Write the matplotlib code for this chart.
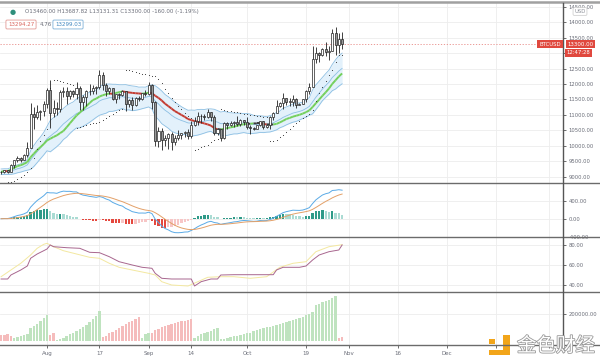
import numpy as np
import pandas as pd
import matplotlib
matplotlib.use('Agg')
import matplotlib.pyplot as plt
import matplotlib.dates as mdates
import matplotlib.patheffects as pe
from matplotlib.collections import LineCollection
from matplotlib.lines import Line2D
from matplotlib.patches import Rectangle

# daily BTCUSD candles
dates = pd.date_range('2020-07-18', '2020-10-30', freq='D')
first_open = 9150
closes = [9160, 9210, 9160, 9390, 9530, 9610, 9550, 9710, 9940, 11040, 10930, 11100, 11120, 11350,
          11800, 11070, 11230, 11190, 11740, 11770, 11600, 11760, 11680, 11880, 11410, 11580, 11780, 11770,
          11870, 11900, 12300, 11960, 11760, 11870, 11530, 11680, 11660, 11760, 11340, 11470, 11330, 11540,
          11510, 11710, 11680,
          11970, 11420, 10170, 10480, 10180, 10260, 10380, 10130, 10240, 10360, 10400, 10450, 10330, 10680,
          10790, 10960, 10950, 10940, 11080, 10920, 10420, 10530, 10240, 10740, 10690, 10730, 10780, 10700,
          10840, 10780,
          10620, 10570, 10550, 10670, 10790, 10600, 10670, 10920, 11060, 11300, 11380, 11550, 11430, 11430,
          11510, 11330, 11370, 11510, 11760, 11920, 12820, 12990, 12940, 13130, 13040, 13070, 13650, 13280,
          13460, 13300]
highs = [9190, 9230, 9220, 9420, 9540, 9660, 9640, 9730, 10110, 11400, 11250, 11330, 11170, 11450,
         11880, 12120, 11480, 11420, 11800, 11910, 11920, 11800, 11810, 12070, 11940, 11630, 11800, 12000,
         11980, 11930, 12470, 12400, 12030, 11890, 11880, 11690, 11720, 11820, 11780, 11530, 11590, 11570,
         11600, 11720, 11800,
         12080, 12000, 11450, 10600, 10580, 10340, 10410, 10440, 10350, 10500, 10410, 10480, 10550, 10790,
         10940, 11100, 11040, 11030, 11180, 11080, 10990, 10570, 10540, 10770, 10770, 10790, 10800, 10950,
         10860, 10850,
         10930, 10670, 10600, 10690, 10800, 10800, 10690, 10950, 11110, 11490, 11420, 11720, 11560, 11550,
         11630, 11540, 11400, 11530, 11820, 12020, 13220, 13200, 13030, 13160, 13350, 13240, 13790, 13860,
         13640, 13688]
lows = [9100, 9120, 9130, 9150, 9280, 9490, 9460, 9530, 9650, 9920, 10560, 10870, 10830, 10980,
        11220, 10580, 10940, 11000, 11090, 11580, 11370, 11530, 11570, 11530, 11150, 11160, 11300, 11630,
        11690, 11690, 11840, 11800, 11610, 11680, 11490, 11380, 11530, 11600, 11120, 11270, 11150, 11290,
        11450, 11490, 11610,
        11660, 11200, 10000, 9950, 9880, 10010, 9890, 9880, 10040, 10200, 10220, 10290, 10230, 10260,
        10630, 10670, 10750, 10820, 10890, 10790, 10360, 10350, 10140, 10210, 10560, 10650, 10600, 10640,
        10650, 10660,
        10530, 10380, 10520, 10530, 10630, 10550, 10590, 10550, 10830, 11050, 11260, 11200, 11320, 11280,
        11280, 11230, 11310, 11350, 11420, 11690, 11900, 12690, 12730, 12900, 12900, 12790, 13060, 12950,
        12990, 13131]

# lower pane: bars and their colour (g / r)
volumes = [42000, 45000, 48000, 40000,
           22000, 29000, 37000, 44000, 52000,
           92000, 110000, 128000, 145000, 168000, 190000,
           45000, 60000,
           8000, 15000, 25000, 38000, 50000, 60000, 74000, 88000, 103000, 118000, 138000, 160000, 185000, 222000,
           30000, 40000, 55000, 68000, 80000, 95000, 108000, 122000, 136000, 150000, 163000, 176000,
           25000, 48000, 60000,
           55000, 78000, 90000, 100000, 108000, 116000, 123000, 130000, 137000, 144000, 150000, 156000, 163000,
           25000, 38000, 48000, 58000, 68000, 76000, 85000, 94000,
           12000, 18000, 24000, 29000, 34000, 39000, 44000, 49000, 55000, 62000, 70000, 78000, 86000, 93000,
           99000, 105000, 112000, 119000, 126000, 133000, 140000, 148000, 156000, 163000, 170000, 178000,
           188000, 198000, 212000, 262000, 272000, 283000, 293000, 303000, 313000, 326000,
           20000, 32000]
vol_dir = ('rrrr' + 'ggggg' + 'gggggg' + 'rr' + 'gggggggggggggg' + 'rrrrrrrrrrrr' + 'ggg'
           + 'rrrrrrrrrrrrr' + 'gggggggg' + 'g' * 36 + 'rr')

# third pane oscillator (bar index from Jul 18, value)
purple_idx = [0, 2, 3, 6, 8, 9, 11, 13, 14, 15, 16, 20, 24, 27, 30, 33, 36, 40, 43, 46, 47, 49, 52, 58,
              59, 61, 64, 66, 67, 71, 76, 83, 84, 86, 91, 93, 95, 97, 100, 103, 104]
purple_val = [45.7, 45.7, 49.7, 54.7, 58.7, 66.4, 70.7, 74, 75.7, 79.7, 78, 77, 76.4, 72.4, 72, 68, 63,
              59.7, 57.4, 56.4, 51.4, 46.4, 45.7, 45.7, 38.7, 43, 45.7, 45.7, 49.7, 50, 50, 50, 54.7, 57.4,
              57.4, 58.7, 64.7, 69.7, 73, 74.7, 79.7]
yellow_idx = [0, 3, 6, 9, 11, 13, 14, 16, 19, 23, 27, 30, 33, 36, 40, 45, 47, 49, 52, 57, 60, 63, 67, 71,
              76, 81, 85, 89, 93, 96, 100, 104]
yellow_val = [48, 54.7, 61.4, 69.7, 76.4, 80.4, 81.4, 78, 74, 70.7, 67.4, 66.4, 61.4, 57.4, 54.7, 51.4,
              49.7, 43, 39.7, 38.7, 43, 47.4, 48, 48, 46.4, 48, 57.4, 61.4, 63, 73, 78, 80]

tick_dates = ['2020-08-01', '2020-08-17', '2020-09-01', '2020-09-14', '2020-10-01', '2020-10-19',
              '2020-11-01', '2020-11-16', '2020-12-01', '2020-12-16', '2021-01-01']
tick_labels = ['Aug', '17', 'Sep', '14', 'Oct', '19', 'Nov', '16', 'Dec', '', '']

W, H = 600, 363
TXT = '#6a6d78'
GRID = '#ededed'
LBL = 3.8


def fx(x):
    return x / W


def fy(y):
    return 1 - y / H


def pane(top, bottom):
    return fig.add_axes([0, fy(bottom), fx(563), (bottom - top) / H])


o = pd.Series([first_open] + closes[:-1], dtype=float)
c = pd.Series(closes, dtype=float)
h = pd.Series(highs, dtype=float)
l = pd.Series(lows, dtype=float)
x = mdates.date2num(dates)

# indicators derived from the candles
ema20 = c.ewm(span=20, adjust=False).mean()
tr = pd.concat([h - l, (h - c.shift()).abs(), (l - c.shift()).abs()], axis=1).max(axis=1)
atr = tr.ewm(alpha=1 / 10, adjust=False).mean()
kc_up, kc_dn = ema20 + atr, ema20 - atr
ma = c.rolling(20, min_periods=1).mean()
macd = c.ewm(span=12, adjust=False).mean() - c.ewm(span=26, adjust=False).mean()
signal = macd.ewm(span=9, adjust=False).mean()
hist = macd - signal


def psar(hi, lo, af0=0.02, step=0.02, amax=0.2):
    n = len(hi)
    out = np.zeros(n)
    up, ep, af = True, hi[0], af0
    out[0] = lo[0] - 300
    for i in range(1, n):
        s = out[i - 1] + af * (ep - out[i - 1])
        if up:
            s = min(s, lo[i - 1], lo[max(i - 2, 0)])
            if lo[i] < s:
                up, s, ep, af = False, ep, lo[i], af0
            elif hi[i] > ep:
                ep, af = hi[i], min(af + step, amax)
        else:
            s = max(s, hi[i - 1], hi[max(i - 2, 0)])
            if hi[i] > s:
                up, s, ep, af = True, ep, hi[i], af0
            elif lo[i] < ep:
                ep, af = lo[i], min(af + step, amax)
        out[i] = s
    return out


sar = psar(highs, lows)

fig = plt.figure(figsize=(6, 3.63), dpi=100)
fig.patch.set_facecolor('white')

ax1 = pane(3.3, 183.3)
ax2 = pane(183.3, 237)
ax3 = pane(237, 291.7)
ax4 = pane(291.7, 345)

x0 = mdates.date2num(pd.Timestamp('2020-07-18')) - 0.333
x1 = x0 + 563 / 3.279
tick_x = mdates.date2num(pd.to_datetime(tick_dates))

for ax in (ax1, ax2, ax3, ax4):
    ax.set_xlim(x0, x1)
    for s in ax.spines.values():
        s.set_visible(False)
    ax.yaxis.tick_right()
    ax.tick_params(axis='y', direction='out', length=2.5, width=0.6, color='#555', pad=1.5,
                   labelsize=LBL, labelcolor=TXT)
    ax.set_xticks(tick_x)
    ax.tick_params(axis='x', length=0)
    ax.set_xticklabels([])
    ax.grid(True, color=GRID, lw=0.6)
    ax.set_axisbelow(True)

# main price pane
ax1.set_ylim(8786, 14615)
price_ticks = np.arange(9000, 14501, 500)
ax1.set_yticks(price_ticks)
# 13000 sits under the countdown tag, as in the screenshot
ax1.set_yticklabels(['' if v == 13000 else '%.2f' % v for v in price_ticks])
ax1.fill_between(x, kc_dn, kc_up, color='#e3f1fb', lw=0)
for band in (kc_up, ema20, kc_dn):
    ax1.plot(x, band, color='#8cbfe3', lw=0.6)
slope = ma.diff().fillna(0).values
seg_col = ['#74d05c' if s > 8 else ('#c43c32' if s < -8 else '#3a3a3a') for s in slope[1:]]
pts = np.column_stack([x, ma.values])
segs = np.stack([pts[:-1], pts[1:]], axis=1)
ax1.add_collection(LineCollection(segs, colors=seg_col, linewidths=1.4))
ax1.scatter(x, sar, s=0.6, color='#333', lw=0, zorder=4)

body_lo = np.minimum(o, c)
body_h = np.maximum((c - o).abs(), 12)
fills = ['white' if cc >= oo else '#9a9a9a' for oo, cc in zip(o, c)]
ax1.vlines(x, l, h, color='#222', lw=0.6, zorder=5)
ax1.bar(x, body_h, bottom=body_lo, width=0.62, color=fills, edgecolor='#222', lw=0.5, zorder=6)
ax1.axhline(closes[-1], color='#e88a86', lw=0.6, ls=(0, (1.5, 2)), zorder=3)

# MACD pane
ax2.set_ylim(-406.7, 786.7)
ax2.set_yticks([-400, 0, 400])
ax2.yaxis.set_major_formatter(plt.FormatStrFormatter('%.2f'))
hv = hist.values
hcol = []
for i, v in enumerate(hv):
    prev = hv[i - 1] if i else 0
    if v >= 0:
        hcol.append('#2e9a88' if v > prev else '#aadbd3')
    else:
        hcol.append('#e5483e' if v < prev else '#f7c6c6')
ax2.bar(x, hv, width=0.7, color=hcol, lw=0)
ax2.plot(x, macd, color='#5aaae6', lw=0.7)
ax2.plot(x, signal, color='#e3a068', lw=0.7)

# oscillator pane
ax3.set_ylim(33, 87.7)
ax3.set_yticks([40, 60, 80])
ax3.yaxis.set_major_formatter(plt.FormatStrFormatter('%.2f'))
ax3.plot(x[yellow_idx], yellow_val, color='#f3e8a0', lw=0.7)
ax3.plot(x[purple_idx], purple_val, color='#a8668e', lw=0.7)

# volume-style pane
ax4.set_ylim(-29300, 361000)
ax4.set_yticks([200000])
ax4.yaxis.set_major_formatter(plt.FormatStrFormatter('%.2f'))
vcol = ['#bfe3bf' if d == 'g' else '#f5bcbc' for d in vol_dir]
ax4.bar(x, volumes, width=0.72, color=vcol, lw=0)
ax4.set_xticklabels(tick_labels)
ax4.tick_params(axis='x', length=2, width=0.6, color='#555', pad=2.5, labelsize=4.0, labelcolor=TXT,
                direction='out')

# frame lines
for yy in (183.3, 237, 291.7, 345):
    fig.add_artist(Line2D([0, 1], [fy(yy), fy(yy)], color='#6b6b6b', lw=1.0))
fig.add_artist(Line2D([0, 1], [fy(2.2), fy(2.2)], color='#a0a0a0', lw=1.8))
fig.add_artist(Line2D([fx(563), fx(563)], [fy(3), fy(352)], color='#555', lw=1.0))

# header
fig.text(fx(12.7), fy(11.7), '\u25cf', color='#2f8f7c', fontsize=5, ha='center', va='center')
fig.text(fx(25), fy(11.7), 'O13460.00 H13687.82 L13131.31 C13300.00 -160.00 (-1.19%)',
         color='#6a6d78', fontsize=3.95, va='center')
fig.text(fx(21), fy(24.5), '13294.27', color='#d9645c', fontsize=4.0, ha='center', va='center',
         bbox=dict(boxstyle='round,pad=0.35,rounding_size=0.2', fc='white', ec='#e39a95', lw=0.6))
fig.text(fx(46), fy(24.5), '4.76', color='#6a6d78', fontsize=4.0, ha='center', va='center')
fig.text(fx(68), fy(24.5), '13299.03', color='#3f86bf', fontsize=4.0, ha='center', va='center',
         bbox=dict(boxstyle='round,pad=0.35,rounding_size=0.2', fc='white', ec='#7fb1d8', lw=0.6))

# price-axis tags
fig.text(fx(580), fy(11.5), 'USD', color='#8a8d96', fontsize=3.8, ha='center', va='center',
         bbox=dict(boxstyle='round,pad=0.25,rounding_size=0.2', fc='white', ec='#c8c8c8', lw=0.5))
fig.text(fx(550), fy(44), 'BTCUSD', color='white', fontsize=3.8, ha='center', va='center',
         bbox=dict(boxstyle='square,pad=0.35', fc='#e0483e', ec='#e0483e', lw=0))
fig.text(fx(580.5), fy(44), '13300.00', color='white', fontsize=3.9, ha='center', va='center',
         bbox=dict(boxstyle='square,pad=0.35', fc='#e0483e', ec='#e0483e', lw=0))
fig.text(fx(578.5), fy(53), '12:47:28', color='white', fontsize=3.9, ha='center', va='center',
         bbox=dict(boxstyle='square,pad=0.35', fc='#e0483e', ec='#e0483e', lw=0))

# watermark
for rx, ry, rw, rh in ((489, 338.5, 6, 5.5), (503, 335, 7, 20), (489, 349.5, 21, 5.5)):
    fig.add_artist(Rectangle((fx(rx), fy(ry + rh)), rw / W, rh / H, transform=fig.transFigure,
                             color='#f2a51a', lw=0))
fig.text(fx(556), fy(346), '金色财经', family=['Noto Sans CJK SC'], fontsize=14, color='white',
         ha='center', va='center',
         path_effects=[pe.withStroke(linewidth=1.2, foreground='#9a9a9a')])

fig.savefig('out.png', dpi=100, facecolor='white')
